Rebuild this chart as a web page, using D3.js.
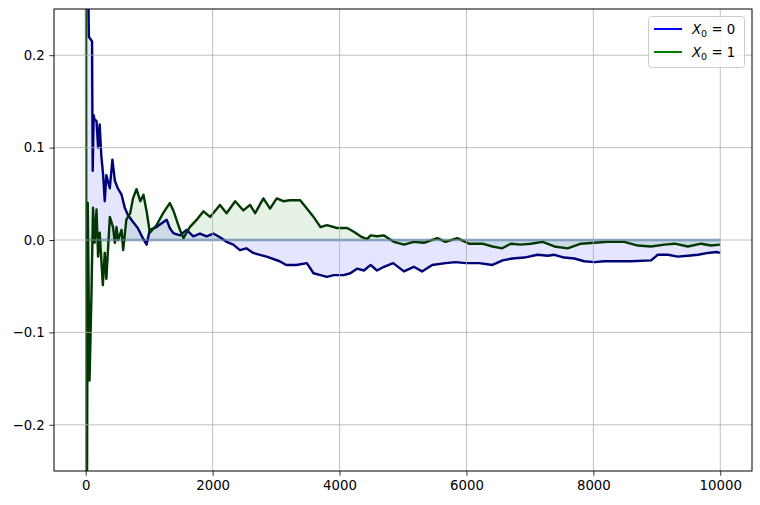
<!DOCTYPE html>
<html>
<head>
<meta charset="utf-8">
<script src="https://cdn.jsdelivr.net/npm/d3@7"></script>
<style>
  body { margin: 0; background: #fff; }
  svg { display: block; font-family: "DejaVu Sans", sans-serif; }
</style>
</head>
<body>
<div id="chart"></div>
<script>
// running mean deviation
var tBlue = [0, 25, 50, 100, 105, 110, 125, 140, 170, 195, 220, 245, 275, 300, 325, 380, 420, 460, 505, 565,
    615, 665, 740, 820, 900, 960, 1010, 1115, 1275, 1325, 1380, 1485, 1590, 1695, 1800, 1905, 2010, 2115,
    2220, 2325, 2430, 2530, 2640, 2745, 2850, 3055, 3160, 3320, 3485, 3590, 3700, 3800, 3910, 4065, 4170,
    4275, 4385, 4490, 4590, 4700, 4845, 5015, 5170, 5300, 5460, 5670, 5830, 5990, 6200, 6410, 6570, 6725,
    6910, 7120, 7280, 7385, 7540, 7700, 7855, 8015, 8170, 8380, 8595, 8910, 9015, 9175, 9330, 9490, 9650,
    9805, 9940, 10000];
var vBlue = [0.5, 0.35, 0.22, 0.215, 0.135, 0.075, 0.135, 0.13, 0.129, 0.1, 0.125, 0.092, 0.07, 0.042, 0.07,
    0.056, 0.087, 0.064, 0.056, 0.049, 0.035, 0.027, 0.02, 0.013, 0.002, -0.005, 0.011, 0.014, 0.022, 0.013,
    0.0075, 0.005, 0.011, 0.004, 0.007, 0.004, 0.007, 0.003, -0.002, -0.005, -0.011, -0.009, -0.014, -0.016,
    -0.018, -0.023, -0.027, -0.027, -0.025, -0.036, -0.038, -0.04, -0.038, -0.038, -0.036, -0.031, -0.033,
    -0.027, -0.033, -0.029, -0.025, -0.034, -0.029, -0.034, -0.027, -0.025, -0.024, -0.025, -0.025, -0.027,
    -0.022, -0.02, -0.019, -0.016, -0.017, -0.016, -0.019, -0.02, -0.023, -0.024, -0.023, -0.023, -0.023,
    -0.022, -0.016, -0.016, -0.018, -0.017, -0.016, -0.014, -0.013, -0.014];

var tGreen = [0, 12, 32, 60, 90, 115, 140, 170, 195, 220, 270, 300, 325, 380, 430, 460, 485, 510, 565, 590,
    640, 700, 745, 800, 860, 910, 965, 1010, 1115, 1220, 1325, 1380, 1485, 1540, 1640, 1750, 1855, 1960, 2115,
    2220, 2355, 2485, 2590, 2670, 2800, 2905, 3010, 3115, 3220, 3380, 3485, 3590, 3700, 3800, 3960, 4120,
    4225, 4330, 4435, 4490, 4590, 4700, 4855, 5015, 5170, 5330, 5540, 5670, 5855, 6040, 6250, 6410, 6565,
    6700, 6855, 7015, 7200, 7385, 7595, 7805, 8015, 8225, 8485, 8700, 8910, 9120, 9280, 9490, 9700, 9855,
    10000];
var vGreen = [1.0, -0.5, 0.04, -0.152, -0.06, 0.035, -0.003, 0.033, -0.018, 0.008, -0.049, -0.014, -0.042,
    0.025, 0.014, -0.003, 0.014, 0.0, 0.011, -0.011, 0.022, 0.029, 0.045, 0.055, 0.042, 0.049, 0.029, 0.008,
    0.016, 0.029, 0.04, 0.032, 0.011, 0.002, 0.014, 0.022, 0.031, 0.025, 0.038, 0.029, 0.042, 0.032, 0.038,
    0.029, 0.045, 0.034, 0.045, 0.042, 0.043, 0.043, 0.034, 0.025, 0.014, 0.016, 0.013, 0.013, 0.009, 0.004,
    0.001, 0.005, 0.004, 0.005, -0.002, -0.005, -0.002, -0.003, 0.002, -0.002, 0.002, -0.004, -0.004, -0.007,
    -0.009, -0.004, -0.005, -0.004, -0.002, -0.007, -0.009, -0.004, -0.003, -0.002, -0.002, -0.006, -0.007,
    -0.005, -0.004, -0.007, -0.004, -0.006, -0.005];

var xTicks = [0, 2000, 4000, 6000, 8000, 10000];
var yTicks = [-0.2, -0.1, 0.0, 0.1, 0.2];
var legendLabels = ['0', '1'];
var legendColors = ['#0000ff', '#008000'];

var W = 760, H = 505;
var m = {left: 54, right: 8, top: 9, bottom: 34};

var svg = d3.select('#chart').append('svg').attr('width', W).attr('height', H);

var x = d3.scaleLinear().domain([-500, 10500]).range([m.left, W - m.right]);
var y = d3.scaleLinear().domain([-0.25, 0.25]).range([H - m.bottom, m.top]);

svg.append('clipPath').attr('id', 'clip').append('rect')
    .attr('x', m.left).attr('y', m.top)
    .attr('width', W - m.left - m.right).attr('height', H - m.top - m.bottom);

var plot = svg.append('g').attr('clip-path', 'url(#clip)');

function pairs(ts, vs) { return ts.map(function (t, i) { return [t, vs[i]]; }); }
var blue = pairs(tBlue, vBlue), green = pairs(tGreen, vGreen);

var area = d3.area().x(function (d) { return x(d[0]); }).y0(y(0)).y1(function (d) { return y(d[1]); });
var line = d3.line().x(function (d) { return x(d[0]); }).y(function (d) { return y(d[1]); });

plot.append('path').attr('d', area(blue)).attr('fill', '#0000ff').attr('fill-opacity', 0.1);
plot.append('path').attr('d', area(green)).attr('fill', '#008000').attr('fill-opacity', 0.1);

// grid
var grid = svg.append('g').attr('stroke', '#b0b0b0').attr('stroke-width', 0.8);
xTicks.forEach(function (t) {
    grid.append('line').attr('x1', x(t)).attr('x2', x(t)).attr('y1', m.top).attr('y2', H - m.bottom);
});
yTicks.forEach(function (t) {
    grid.append('line').attr('y1', y(t)).attr('y2', y(t)).attr('x1', m.left).attr('x2', W - m.right);
});

plot.append('line').attr('x1', x(0)).attr('x2', x(10000)).attr('y1', y(0)).attr('y2', y(0))
    .attr('stroke', '#5a8cc0').attr('stroke-opacity', 0.85).attr('stroke-width', 2.5);

plot.append('path').attr('d', line(blue)).attr('fill', 'none')
    .attr('stroke', '#000078').attr('stroke-width', 2.4).attr('stroke-linejoin', 'round');
plot.append('path').attr('d', line(green)).attr('fill', 'none')
    .attr('stroke', '#013801').attr('stroke-width', 2.4).attr('stroke-linejoin', 'round');

// axes
var xAxis = d3.axisBottom(x).tickValues(xTicks).tickSize(4.7).tickPadding(4.5).tickFormat(d3.format('d'));
var yAxis = d3.axisLeft(y).tickValues(yTicks).tickSize(4.7).tickPadding(4.5)
    .tickFormat(function (d) { return d3.format('.1f')(d).replace('-', '\u2212'); });

svg.append('g').attr('transform', 'translate(0,' + (H - m.bottom) + ')').call(xAxis);
svg.append('g').attr('transform', 'translate(' + m.left + ',0)').call(yAxis);
svg.selectAll('.domain').remove();
svg.selectAll('.tick text').attr('font-size', 13.3).attr('fill', '#000').attr('font-family', '"DejaVu Sans", sans-serif');
svg.selectAll('.tick line').attr('stroke', '#000').attr('stroke-width', 0.8);

svg.append('rect').attr('x', m.left).attr('y', m.top)
    .attr('width', W - m.left - m.right).attr('height', H - m.top - m.bottom)
    .attr('fill', 'none').attr('stroke', '#000').attr('stroke-width', 1);

// legend
var lg = svg.append('g');
lg.append('rect').attr('x', 648.5).attr('y', 16.5).attr('width', 96).attr('height', 51)
    .attr('rx', 3).attr('fill', '#fff').attr('fill-opacity', 0.8).attr('stroke', '#cccccc');
legendLabels.forEach(function (lab, i) {
    var yy = 29 + i * 23;
    lg.append('line').attr('x1', 654).attr('x2', 682).attr('y1', yy).attr('y2', yy)
        .attr('stroke', legendColors[i]).attr('stroke-width', 2);
    var tx = lg.append('text').attr('x', 692).attr('y', yy + 5).attr('font-size', 13.3).attr('fill', '#000');
    tx.append('tspan').attr('font-style', 'italic').text('X');
    tx.append('tspan').attr('font-size', 9.5).attr('dy', 3).text('0');
    tx.append('tspan').attr('dy', -3).text(' = ' + lab);
});
</script>
</body>
</html>
